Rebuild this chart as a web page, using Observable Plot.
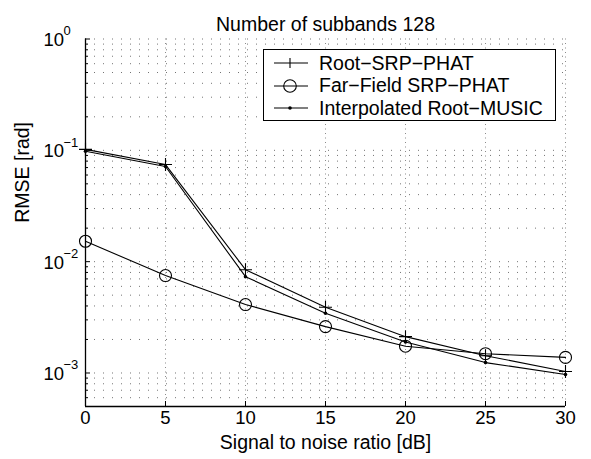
<!DOCTYPE html>
<html><head><meta charset="utf-8">
<script src="https://cdn.jsdelivr.net/npm/d3@7"></script>
<script src="https://cdn.jsdelivr.net/npm/@observablehq/plot@0.6"></script>
<style>
body{margin:0;background:#fff;}
#wrap{position:relative;width:591px;height:459px;font-family:"Liberation Sans",Arial,Helvetica,sans-serif;}
#legend{position:absolute;left:263px;top:49px;width:293px;height:72px;border:1.4px solid #000;background:#fff;box-sizing:border-box;}
.row{position:absolute;left:0;height:22px;display:flex;align-items:center;font-size:19.5px;color:#000;white-space:nowrap;}
.row svg{margin-left:10px;margin-right:11px;}
</style></head><body><div id="wrap"><div id="legend"></div></div>
<script>
const snr = [0, 5, 10, 15, 20, 25, 30];
const rootSrpPhat = [0.102, 0.0745, 0.00847, 0.00389, 0.00212, 0.00143, 0.00103];
const farFieldSrpPhat = [0.01525, 0.0075, 0.00412, 0.00261, 0.00174, 0.00149, 0.00138];
const interpRootMusic = [0.098, 0.0715, 0.00733, 0.00344, 0.0019, 0.00124, 0.00097];
const seriesNames = ["Root\u2212SRP\u2212PHAT", "Far\u2212Field SRP\u2212PHAT", "Interpolated Root\u2212MUSIC"];
const xTicks = [0, 5, 10, 15, 20, 25, 30];
const yMajor = [1e-3, 1e-2, 1e-1, 1];
const yExponents = ["\u22123", "\u22122", "\u22121", "0"];
const yDomain = [5e-4, 1];
const xDomain = [0, 30];
const titleText = "Number of subbands 128";
const xLabel = "Signal to noise ratio [dB]";
const yLabel = "RMSE [rad]";

const yMinor = [];
for (let k = -4; k <= -1; k++) for (let m = 2; m <= 9; m++) {
  const v = m * Math.pow(10, k);
  if (v >= yDomain[0] - 1e-12 && v <= yDomain[1]) yMinor.push(v);
}
const yGrid = yMajor.concat(yMinor);
const expOf = new Map(yMajor.map((v, i) => [v, yExponents[i]]));

const mk = (vals) => snr.map((x, i) => ({x, y: vals[i]}));
const dRoot = mk(rootSrpPhat), dFar = mk(farFieldSrpPhat), dInt = mk(interpRootMusic);

const plusSym = (h) => ({draw(ctx) { ctx.moveTo(-h, 0); ctx.lineTo(h, 0); ctx.moveTo(0, -h); ctx.lineTo(0, h); }});

const chart = Plot.plot({
  width: 591, height: 459,
  marginLeft: 85, marginRight: 26, marginTop: 38.5, marginBottom: 53,
  style: {fontFamily: '"Liberation Sans", Arial, Helvetica, sans-serif', background: "#fff", color: "#000", overflow: "visible"},
  x: {domain: xDomain, axis: null},
  y: {type: "log", domain: yDomain, axis: null},
  marks: [
    Plot.ruleY(yGrid, {stroke: "#000", strokeOpacity: 0.55, strokeDasharray: "1,8"}),
    Plot.ruleX(xTicks.slice(1), {stroke: "#000", strokeOpacity: 0.45, strokeDasharray: "1,3.5"}),
    Plot.axisY({ticks: yMajor, anchor: "left", tickSize: -5, tickFormat: () => "", label: null, strokeWidth: 1}),
    Plot.axisY({ticks: yMinor, anchor: "left", tickSize: -3, tickFormat: () => "", label: null, strokeWidth: 1}),
    Plot.axisX({ticks: xTicks, anchor: "bottom", tickSize: -5, tickFormat: () => "", label: null, strokeWidth: 1}),
    Plot.ruleX([xDomain[0]], {stroke: "#000", strokeWidth: 1.3}),
    Plot.ruleY([yDomain[0]], {stroke: "#000", strokeWidth: 1.3}),
    Plot.text(xTicks, {x: d => d, frameAnchor: "bottom", dy: 17, text: d => String(d), fontSize: 18.5, fill: "#000"}),
    Plot.text(yMajor, {y: d => d, frameAnchor: "left", dx: -42, textAnchor: "start", text: () => "10", fontSize: 18.5, fill: "#000", dy: 1}),
    Plot.text(yMajor, {y: d => d, frameAnchor: "left", dx: -22, textAnchor: "start", text: d => expOf.get(d), fontSize: 13, fill: "#000", dy: -8}),
    Plot.line(dRoot, {x: "x", y: "y", stroke: "#000", strokeWidth: 1.1}),
    Plot.line(dFar, {x: "x", y: "y", stroke: "#000", strokeWidth: 1.1}),
    Plot.line(dInt, {x: "x", y: "y", stroke: "#000", strokeWidth: 1.1}),
    Plot.dot(dRoot, {x: "x", y: "y", symbol: plusSym(6.5), r: 6, stroke: "#000", strokeWidth: 1.1}),
    Plot.dot(dFar, {x: "x", y: "y", symbol: "circle", r: 6, stroke: "#000", fill: "none", strokeWidth: 1.1}),
    Plot.dot(dInt, {x: "x", y: "y", r: 1.8, fill: "#000", stroke: "none"}),
    Plot.text([titleText], {frameAnchor: "top", dy: -22, fontSize: 19.5, fill: "#000"}),
    Plot.text([xLabel], {frameAnchor: "bottom", dy: 42, fontSize: 19.5, fill: "#000"}),
    Plot.text([yLabel], {frameAnchor: "left", dx: -63, rotate: -90, fontSize: 19.5, fill: "#000"})
  ]
});
document.getElementById("wrap").prepend(chart);

// Legend
const legend = document.getElementById("legend");
const rowTops = [2, 24.7, 47.3];
const symbolSvg = [
  '<line x1="0" y1="11" x2="34" y2="11" stroke="#000" stroke-width="1.1"/><line x1="16" y1="6" x2="16" y2="16" stroke="#000" stroke-width="1.1"/>',
  '<line x1="0" y1="11" x2="34" y2="11" stroke="#000" stroke-width="1.1"/><circle cx="16" cy="11" r="6.3" fill="none" stroke="#000" stroke-width="1.1"/>',
  '<line x1="0" y1="11" x2="34" y2="11" stroke="#000" stroke-width="1.1"/><circle cx="16" cy="11" r="1.8" fill="#000"/>'
];
seriesNames.forEach((name, i) => {
  const row = document.createElement("div");
  row.className = "row";
  row.style.top = rowTops[i] + "px";
  row.innerHTML = `<svg width="34" height="22">${symbolSvg[i]}</svg><span>${name}</span>`;
  legend.appendChild(row);
});
</script>
</body></html>
